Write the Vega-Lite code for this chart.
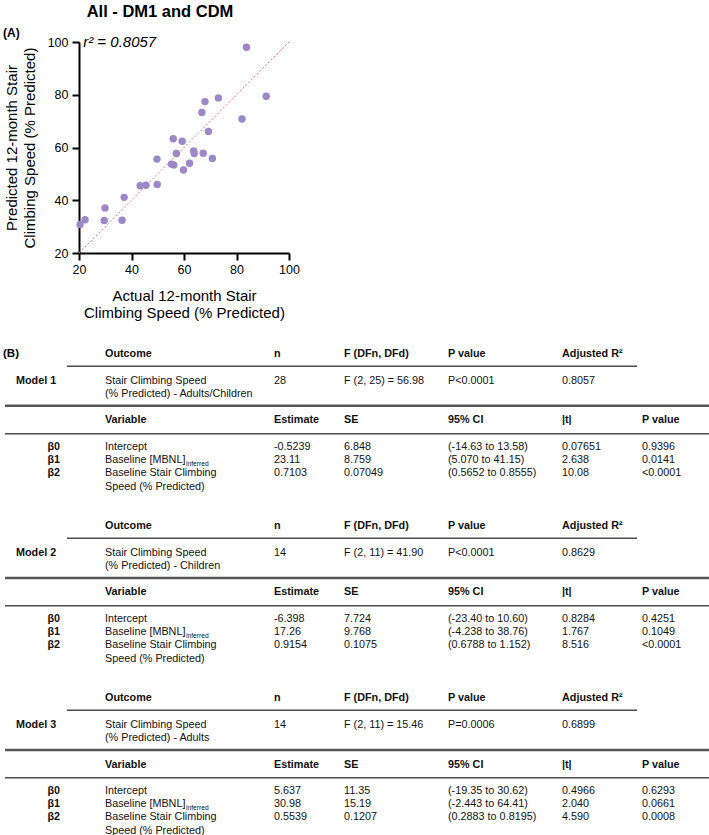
{
  "$schema": "https://vega.github.io/schema/vega-lite/v6.json",
  "padding": {"left": 3, "top": 4, "right": 0, "bottom": 0},
  "background": "white",
  "config": {"font": "Liberation Sans", "view": {"stroke": null}, "concat": {"spacing": 20}},
  "datasets": {
    "points": [
      {"actual": 20.4, "predicted": 30.8}, {"actual": 22.3, "predicted": 32.6}, {"actual": 29.9, "predicted": 37.1},
      {"actual": 29.6, "predicted": 32.3}, {"actual": 36.4, "predicted": 32.4}, {"actual": 37.2, "predicted": 41.1},
      {"actual": 43.3, "predicted": 45.5}, {"actual": 45.5, "predicted": 45.7}, {"actual": 49.8, "predicted": 46.0},
      {"actual": 49.7, "predicted": 55.6}, {"actual": 55.2, "predicted": 53.7}, {"actual": 56.1, "predicted": 53.4},
      {"actual": 55.9, "predicted": 63.3}, {"actual": 57.1, "predicted": 57.7}, {"actual": 59.3, "predicted": 62.4},
      {"actual": 59.8, "predicted": 51.5}, {"actual": 62.1, "predicted": 54.0}, {"actual": 63.7, "predicted": 58.7},
      {"actual": 63.9, "predicted": 57.7}, {"actual": 67.3, "predicted": 57.8}, {"actual": 66.8, "predicted": 73.3},
      {"actual": 68.0, "predicted": 77.4}, {"actual": 69.3, "predicted": 66.1}, {"actual": 70.8, "predicted": 55.8},
      {"actual": 73.1, "predicted": 78.8}, {"actual": 82.1, "predicted": 70.8}, {"actual": 83.8, "predicted": 98.0},
      {"actual": 91.3, "predicted": 79.4}
    ],
    "cells": [
      {"row": 0, "col": 0, "kind": "panel", "text": "(B)"},
      {"row": 0, "col": 3, "kind": "head", "text": "Outcome"},
      {"row": 0, "col": 4, "kind": "head", "text": "n"},
      {"row": 0, "col": 5, "kind": "head", "text": "F (DFn, DFd)"},
      {"row": 0, "col": 6, "kind": "head", "text": "P value"},
      {"row": 0, "col": 7, "kind": "head", "text": "Adjusted R²"},
      {"row": 2, "col": 1, "kind": "model", "text": "Model 1"},
      {"row": 2, "col": 3, "kind": "body", "text": "Stair Climbing Speed"},
      {"row": 2, "col": 4, "kind": "body", "text": "28"},
      {"row": 2, "col": 5, "kind": "body", "text": "F (2, 25) = 56.98"},
      {"row": 2, "col": 6, "kind": "body", "text": "P<0.0001"},
      {"row": 2, "col": 7, "kind": "body", "text": "0.8057"},
      {"row": 3, "col": 3, "kind": "body", "text": "(% Predicted) - Adults/Children"},
      {"row": 5, "col": 3, "kind": "head", "text": "Variable"},
      {"row": 5, "col": 4, "kind": "head", "text": "Estimate"},
      {"row": 5, "col": 5, "kind": "head", "text": "SE"},
      {"row": 5, "col": 6, "kind": "head", "text": "95% CI"},
      {"row": 5, "col": 7, "kind": "head", "text": "|t|"},
      {"row": 5, "col": 8, "kind": "head", "text": "P value"},
      {"row": 7, "col": 2, "kind": "beta", "text": "β0"},
      {"row": 8, "col": 2, "kind": "beta", "text": "β1"},
      {"row": 9, "col": 2, "kind": "beta", "text": "β2"},
      {"row": 7, "col": 3, "kind": "body", "text": "Intercept"},
      {"row": 7, "col": 4, "kind": "body", "text": "-0.5239"},
      {"row": 7, "col": 5, "kind": "body", "text": "6.848"},
      {"row": 7, "col": 6, "kind": "body", "text": "(-14.63 to 13.58)"},
      {"row": 7, "col": 7, "kind": "body", "text": "0.07651"},
      {"row": 7, "col": 8, "kind": "body", "text": "0.9396"},
      {"row": 8, "col": 3, "kind": "body", "text": "Baseline [MBNL]"},
      {"row": 8, "col": 3, "kind": "sub", "text": "inferred"},
      {"row": 8, "col": 4, "kind": "body", "text": "23.11"},
      {"row": 8, "col": 5, "kind": "body", "text": "8.759"},
      {"row": 8, "col": 6, "kind": "body", "text": "(5.070 to 41.15)"},
      {"row": 8, "col": 7, "kind": "body", "text": "2.638"},
      {"row": 8, "col": 8, "kind": "body", "text": "0.0141"},
      {"row": 9, "col": 3, "kind": "body", "text": "Baseline Stair Climbing"},
      {"row": 9, "col": 4, "kind": "body", "text": "0.7103"},
      {"row": 9, "col": 5, "kind": "body", "text": "0.07049"},
      {"row": 9, "col": 6, "kind": "body", "text": "(0.5652 to 0.8555)"},
      {"row": 9, "col": 7, "kind": "body", "text": "10.08"},
      {"row": 9, "col": 8, "kind": "body", "text": "<0.0001"},
      {"row": 10, "col": 3, "kind": "body", "text": "Speed (% Predicted)"},
      {"row": 0.9, "kind": "r_out"},
      {"row": 3.9, "kind": "r_mod"},
      {"row": 6.0, "kind": "r_var"},

      {"row": 13, "col": 3, "kind": "head", "text": "Outcome"},
      {"row": 13, "col": 4, "kind": "head", "text": "n"},
      {"row": 13, "col": 5, "kind": "head", "text": "F (DFn, DFd)"},
      {"row": 13, "col": 6, "kind": "head", "text": "P value"},
      {"row": 13, "col": 7, "kind": "head", "text": "Adjusted R²"},
      {"row": 15, "col": 1, "kind": "model", "text": "Model 2"},
      {"row": 15, "col": 3, "kind": "body", "text": "Stair Climbing Speed"},
      {"row": 15, "col": 4, "kind": "body", "text": "14"},
      {"row": 15, "col": 5, "kind": "body", "text": "F (2, 11) = 41.90"},
      {"row": 15, "col": 6, "kind": "body", "text": "P<0.0001"},
      {"row": 15, "col": 7, "kind": "body", "text": "0.8629"},
      {"row": 16, "col": 3, "kind": "body", "text": "(% Predicted) - Children"},
      {"row": 18, "col": 3, "kind": "head", "text": "Variable"},
      {"row": 18, "col": 4, "kind": "head", "text": "Estimate"},
      {"row": 18, "col": 5, "kind": "head", "text": "SE"},
      {"row": 18, "col": 6, "kind": "head", "text": "95% CI"},
      {"row": 18, "col": 7, "kind": "head", "text": "|t|"},
      {"row": 18, "col": 8, "kind": "head", "text": "P value"},
      {"row": 20, "col": 2, "kind": "beta", "text": "β0"},
      {"row": 21, "col": 2, "kind": "beta", "text": "β1"},
      {"row": 22, "col": 2, "kind": "beta", "text": "β2"},
      {"row": 20, "col": 3, "kind": "body", "text": "Intercept"},
      {"row": 20, "col": 4, "kind": "body", "text": "-6.398"},
      {"row": 20, "col": 5, "kind": "body", "text": "7.724"},
      {"row": 20, "col": 6, "kind": "body", "text": "(-23.40 to 10.60)"},
      {"row": 20, "col": 7, "kind": "body", "text": "0.8284"},
      {"row": 20, "col": 8, "kind": "body", "text": "0.4251"},
      {"row": 21, "col": 3, "kind": "body", "text": "Baseline [MBNL]"},
      {"row": 21, "col": 3, "kind": "sub", "text": "inferred"},
      {"row": 21, "col": 4, "kind": "body", "text": "17.26"},
      {"row": 21, "col": 5, "kind": "body", "text": "9.768"},
      {"row": 21, "col": 6, "kind": "body", "text": "(-4.238 to 38.76)"},
      {"row": 21, "col": 7, "kind": "body", "text": "1.767"},
      {"row": 21, "col": 8, "kind": "body", "text": "0.1049"},
      {"row": 22, "col": 3, "kind": "body", "text": "Baseline Stair Climbing"},
      {"row": 22, "col": 4, "kind": "body", "text": "0.9154"},
      {"row": 22, "col": 5, "kind": "body", "text": "0.1075"},
      {"row": 22, "col": 6, "kind": "body", "text": "(0.6788 to 1.152)"},
      {"row": 22, "col": 7, "kind": "body", "text": "8.516"},
      {"row": 22, "col": 8, "kind": "body", "text": "<0.0001"},
      {"row": 23, "col": 3, "kind": "body", "text": "Speed (% Predicted)"},
      {"row": 13.9, "kind": "r_out"},
      {"row": 16.9, "kind": "r_mod"},
      {"row": 19.0, "kind": "r_var"},

      {"row": 26, "col": 3, "kind": "head", "text": "Outcome"},
      {"row": 26, "col": 4, "kind": "head", "text": "n"},
      {"row": 26, "col": 5, "kind": "head", "text": "F (DFn, DFd)"},
      {"row": 26, "col": 6, "kind": "head", "text": "P value"},
      {"row": 26, "col": 7, "kind": "head", "text": "Adjusted R²"},
      {"row": 28, "col": 1, "kind": "model", "text": "Model 3"},
      {"row": 28, "col": 3, "kind": "body", "text": "Stair Climbing Speed"},
      {"row": 28, "col": 4, "kind": "body", "text": "14"},
      {"row": 28, "col": 5, "kind": "body", "text": "F (2, 11) = 15.46"},
      {"row": 28, "col": 6, "kind": "body", "text": "P=0.0006"},
      {"row": 28, "col": 7, "kind": "body", "text": "0.6899"},
      {"row": 29, "col": 3, "kind": "body", "text": "(% Predicted) - Adults"},
      {"row": 31, "col": 3, "kind": "head", "text": "Variable"},
      {"row": 31, "col": 4, "kind": "head", "text": "Estimate"},
      {"row": 31, "col": 5, "kind": "head", "text": "SE"},
      {"row": 31, "col": 6, "kind": "head", "text": "95% CI"},
      {"row": 31, "col": 7, "kind": "head", "text": "|t|"},
      {"row": 31, "col": 8, "kind": "head", "text": "P value"},
      {"row": 33, "col": 2, "kind": "beta", "text": "β0"},
      {"row": 34, "col": 2, "kind": "beta", "text": "β1"},
      {"row": 35, "col": 2, "kind": "beta", "text": "β2"},
      {"row": 33, "col": 3, "kind": "body", "text": "Intercept"},
      {"row": 33, "col": 4, "kind": "body", "text": "5.637"},
      {"row": 33, "col": 5, "kind": "body", "text": "11.35"},
      {"row": 33, "col": 6, "kind": "body", "text": "(-19.35 to 30.62)"},
      {"row": 33, "col": 7, "kind": "body", "text": "0.4966"},
      {"row": 33, "col": 8, "kind": "body", "text": "0.6293"},
      {"row": 34, "col": 3, "kind": "body", "text": "Baseline [MBNL]"},
      {"row": 34, "col": 3, "kind": "sub", "text": "inferred"},
      {"row": 34, "col": 4, "kind": "body", "text": "30.98"},
      {"row": 34, "col": 5, "kind": "body", "text": "15.19"},
      {"row": 34, "col": 6, "kind": "body", "text": "(-2.443 to 64.41)"},
      {"row": 34, "col": 7, "kind": "body", "text": "2.040"},
      {"row": 34, "col": 8, "kind": "body", "text": "0.0661"},
      {"row": 35, "col": 3, "kind": "body", "text": "Baseline Stair Climbing"},
      {"row": 35, "col": 4, "kind": "body", "text": "0.5539"},
      {"row": 35, "col": 5, "kind": "body", "text": "0.1207"},
      {"row": 35, "col": 6, "kind": "body", "text": "(0.2883 to 0.8195)"},
      {"row": 35, "col": 7, "kind": "body", "text": "4.590"},
      {"row": 35, "col": 8, "kind": "body", "text": "0.0008"},
      {"row": 36, "col": 3, "kind": "body", "text": "Speed (% Predicted)"},
      {"row": 26.9, "kind": "r_out"},
      {"row": 29.9, "kind": "r_mod"},
      {"row": 32.0, "kind": "r_var"}
    ]
  },
  "vconcat": [
    {
      "width": 210,
      "height": 211,
      "title": {"text": "All - DM1 and CDM", "fontSize": 16.5, "fontWeight": "bold", "anchor": "middle", "dx": -24, "offset": 6, "color": "#000"},
      "layer": [
        {
          "data": {"values": [{"from": 20, "to": 100}]},
          "mark": {"type": "rule", "color": "#f47070", "strokeWidth": 1, "strokeDash": [2, 2]},
          "encoding": {
            "x": {"field": "from", "type": "quantitative", "scale": {"domain": [20, 100], "nice": false, "zero": false}},
            "y": {"field": "from", "type": "quantitative", "scale": {"domain": [20, 100], "nice": false, "zero": false}},
            "x2": {"field": "to"},
            "y2": {"field": "to"}
          }
        },
        {
          "data": {"name": "points"},
          "mark": {"type": "circle", "size": 55, "color": "#9c87c7", "opacity": 1},
          "encoding": {
            "x": {
              "field": "actual", "type": "quantitative",
              "scale": {"domain": [20, 100], "nice": false, "zero": false},
              "axis": {
                "title": ["Actual 12-month Stair", "Climbing Speed (% Predicted)"],
                "values": [20, 30, 40, 50, 60, 70, 80, 90, 100],
                "labelExpr": "datum.value % 20 === 0 ? datum.label : ''",
                "labelOverlap": false, "labelFlush": false, "grid": false,
                "domainColor": "#000", "domainWidth": 2, "tickColor": "#000", "tickWidth": 2, "tickSize": 7,
                "labelFontSize": 12.5, "labelColor": "#000", "labelPadding": 3,
                "titleFontSize": 15, "titleFontWeight": "normal", "titleColor": "#000", "titlePadding": 13, "titleLineHeight": 17
              }
            },
            "y": {
              "field": "predicted", "type": "quantitative",
              "scale": {"domain": [20, 100], "nice": false, "zero": false},
              "axis": {
                "title": ["Predicted 12-month Stair", "Climbing Speed (% Predicted)"],
                "values": [20, 30, 40, 50, 60, 70, 80, 90, 100],
                "labelExpr": "datum.value % 20 === 0 ? datum.label : ''",
                "labelOverlap": false, "labelFlush": false, "grid": false,
                "domainColor": "#000", "domainWidth": 2, "tickColor": "#000", "tickWidth": 2, "tickSize": 7,
                "labelFontSize": 12.5, "labelColor": "#000", "labelPadding": 4,
                "titleFontSize": 15, "titleFontWeight": "normal", "titleColor": "#000", "titlePadding": 10, "titleLineHeight": 18
              }
            }
          }
        },
        {
          "data": {"values": [{"label": "r² = 0.8057", "x": 21.6, "y": 100}]},
          "mark": {"type": "text", "fontStyle": "italic", "fontSize": 15, "align": "left", "baseline": "middle", "color": "#000"},
          "encoding": {
            "x": {"field": "x", "type": "quantitative"},
            "y": {"field": "y", "type": "quantitative"},
            "text": {"field": "label"}
          }
        },
        {
          "data": {"values": [{"label": "(A)", "x": -8.95, "y": 103.6}]},
          "mark": {"type": "text", "fontWeight": "bold", "fontSize": 12, "align": "left", "baseline": "middle", "color": "#000"},
          "encoding": {
            "x": {"field": "x", "type": "quantitative"},
            "y": {"field": "y", "type": "quantitative"},
            "text": {"field": "label"}
          }
        }
      ]
    },
    {
      "width": 630,
      "height": 495,
      "data": {"name": "cells"},
      "encoding": {
        "y": {"field": "row", "type": "quantitative", "scale": {"domain": [-1, 36.4], "reverse": true, "nice": false, "zero": false}, "axis": null}
      },
      "layer": [
        {
          "transform": [{"filter": "datum.kind === 'head' || datum.kind === 'model'"}],
          "mark": {"type": "text", "fontSize": 10.8, "fontWeight": "bold", "align": "left", "baseline": "middle", "color": "#111"},
          "encoding": {
            "x": {"field": "col", "type": "quantitative", "scale": {"domain": [0, 1, 2, 3, 4, 5, 6, 7, 8], "range": [-76, -63, -19, 26, 195, 265, 369, 483, 563], "nice": false, "zero": false}, "axis": null},
            "text": {"field": "text"}
          }
        },
        {
          "transform": [{"filter": "datum.kind === 'body'"}],
          "mark": {"type": "text", "fontSize": 10.8, "align": "left", "baseline": "middle", "color": "#111"},
          "encoding": {"x": {"field": "col", "type": "quantitative", "axis": null}, "text": {"field": "text"}}
        },
        {
          "transform": [{"filter": "datum.kind === 'beta'"}],
          "mark": {"type": "text", "fontSize": 10.8, "fontWeight": "bold", "align": "right", "baseline": "middle", "color": "#111"},
          "encoding": {"x": {"field": "col", "type": "quantitative", "axis": null}, "text": {"field": "text"}}
        },
        {
          "transform": [{"filter": "datum.kind === 'sub'"}],
          "mark": {"type": "text", "fontSize": 6.7, "align": "left", "baseline": "middle", "dx": 81, "dy": 3.5, "color": "#111"},
          "encoding": {"x": {"field": "col", "type": "quantitative", "axis": null}, "text": {"field": "text"}}
        },
        {
          "transform": [{"filter": "datum.kind === 'panel'"}],
          "mark": {"type": "text", "fontSize": 11.5, "fontWeight": "bold", "align": "left", "baseline": "middle", "color": "#000"},
          "encoding": {"x": {"field": "col", "type": "quantitative", "axis": null}, "text": {"field": "text"}}
        },
        {
          "transform": [{"filter": "datum.kind === 'r_out'"}],
          "mark": {"type": "rule", "strokeWidth": 1.5, "color": "#4a4a4a"},
          "encoding": {"x": {"datum": 2.156, "type": "quantitative", "axis": null}, "x2": {"datum": 7.9375}}
        },
        {
          "transform": [{"filter": "datum.kind === 'r_mod'"}],
          "mark": {"type": "rule", "strokeWidth": 2.5, "color": "#555555"},
          "encoding": {"x": {"datum": 0.154, "type": "quantitative", "axis": null}, "x2": {"datum": 8.8375}}
        },
        {
          "transform": [{"filter": "datum.kind === 'r_var'"}],
          "mark": {"type": "rule", "strokeWidth": 1.5, "color": "#4a4a4a"},
          "encoding": {"x": {"datum": 0.154, "type": "quantitative", "axis": null}, "x2": {"datum": 8.8375}}
        }
      ]
    }
  ]
}
